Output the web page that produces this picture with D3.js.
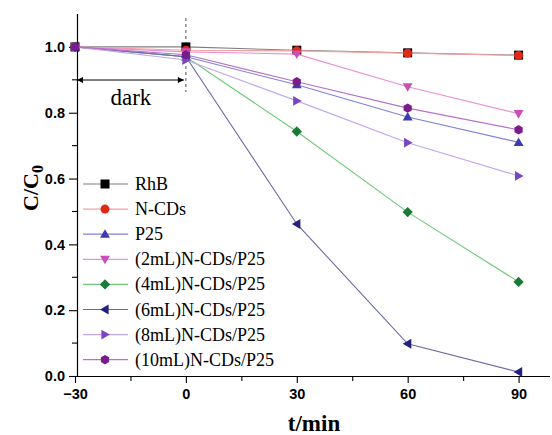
<!DOCTYPE html>
<html>
<head>
<meta charset="utf-8">
<script src="https://cdn.jsdelivr.net/npm/d3@7"></script>
<style>
  html, body { margin: 0; padding: 0; background: #fff; }
  svg { display: block; }
</style>
</head>
<body>
<svg id="chart" width="552" height="435"></svg>
<script>
// Sampling times (min); negative times are the dark adsorption period
const times = [-30, 0, 30, 60, 90];

const seriesNames = [
  "RhB", "N-CDs", "P25", "(2mL)N-CDs/P25", "(4mL)N-CDs/P25",
  "(6mL)N-CDs/P25", "(8mL)N-CDs/P25", "(10mL)N-CDs/P25"
];

// C/C0 values for each sample at the sampling times
const rhb     = [1.00, 1.00, 0.99, 0.982, 0.975];
const ncds    = [1.00, 0.99, 0.988, 0.981, 0.974];
const p25     = [1.00, 0.97, 0.885, 0.787, 0.710];
const ml2     = [1.00, 0.985, 0.978, 0.879, 0.797];
const ml4     = [1.00, 0.97, 0.743, 0.498, 0.286];
const ml6     = [1.00, 0.97, 0.462, 0.098, 0.012];
const ml8     = [1.00, 0.96, 0.836, 0.709, 0.608];
const ml10    = [1.00, 0.976, 0.894, 0.814, 0.748];

const seriesValues = [rhb, ncds, p25, ml2, ml4, ml6, ml8, ml10];

const xTicks = [-30, 0, 30, 60, 90];
const yTicks = [0.0, 0.2, 0.4, 0.6, 0.8, 1.0];

// Per-series styling: line colour, marker colour, marker shape
const lineColors   = ["#808080", "#f4a0a0", "#8080d8", "#e890d8", "#70c878", "#6a6aa8", "#c0a8ec", "#b870c8"];
const markerColors = ["#000000", "#e02818", "#3c3cb0", "#c850b8", "#1a7a38", "#22227e", "#7a44c4", "#7a1c8c"];
const shapes = ["square", "circle", "triUp", "triDown", "diamond", "triLeft", "triRight", "hexagon"];

const svg = d3.select("#chart");
const x = d3.scaleLinear().domain([-30, 98.5]).range([75, 550]);
const y = d3.scaleLinear().domain([0, 1.1]).range([376, 14]);

function markerPath(shape, s) {
  const h = s / 2;
  switch (shape) {
    case "square": return `M${-h},${-h}H${h}V${h}H${-h}Z`;
    case "circle": return d3.symbol(d3.symbolCircle, Math.PI * h * h)();
    case "triUp": return `M0,${-h * 1.1}L${h * 1.1},${h * 0.8}L${-h * 1.1},${h * 0.8}Z`;
    case "triDown": return `M0,${h * 1.1}L${h * 1.1},${-h * 0.8}L${-h * 1.1},${-h * 0.8}Z`;
    case "triLeft": return `M${-h * 1.1},0L${h * 0.8},${-h * 1.1}L${h * 0.8},${h * 1.1}Z`;
    case "triRight": return `M${h * 1.1},0L${-h * 0.8},${-h * 1.1}L${-h * 0.8},${h * 1.1}Z`;
    case "diamond": return `M0,${-h * 1.15}L${h * 1.15},0L0,${h * 1.15}L${-h * 1.15},0Z`;
    case "hexagon": {
      const pts = d3.range(6).map(i => {
        const a = Math.PI / 6 + i * Math.PI / 3;
        return [h * 1.05 * Math.cos(a), h * 1.05 * Math.sin(a)];
      });
      return "M" + pts.map(p => p.join(",")).join("L") + "Z";
    }
  }
}

// Axes
const xAxis = d3.axisBottom(x).tickValues(xTicks).tickSize(7).tickPadding(6).tickFormat(d3.format("d"));
const yAxis = d3.axisLeft(y).tickValues(yTicks).tickSize(8).tickPadding(4).tickFormat(d3.format(".1f"));

const gx = svg.append("g").attr("transform", "translate(0,376)").call(xAxis);
const gy = svg.append("g").attr("transform", "translate(77,0)").call(yAxis);

[gx, gy].forEach(g => {
  g.select(".domain").attr("stroke", "#000").attr("stroke-width", 1.2);
  g.selectAll(".tick line").attr("stroke", "#000").attr("stroke-width", 1.1);
  g.selectAll(".tick text")
    .attr("fill", "#000")
    .style("font-family", "'Liberation Sans', Arial, sans-serif")
    .style("font-weight", "bold")
    .style("font-size", "14.5px");
});
gx.select(".domain").attr("d", `M${x(-30)},0.5H550`);
gy.select(".domain").attr("d", `M0.5,14V376`);

// Minor ticks
const xMinor = [-15, 15, 45, 75];
svg.append("g").selectAll("line").data(xMinor).join("line")
  .attr("x1", d => x(d) + 0.5).attr("x2", d => x(d) + 0.5)
  .attr("y1", 376).attr("y2", 381)
  .attr("stroke", "#000").attr("stroke-width", 1.1);
const yMinor = [0.1, 0.3, 0.5, 0.7, 0.9];
svg.append("g").selectAll("line").data(yMinor).join("line")
  .attr("x1", 72).attr("x2", 77)
  .attr("y1", d => y(d)).attr("y2", d => y(d))
  .attr("stroke", "#000").attr("stroke-width", 1.1);

// Axis titles
svg.append("text")
  .attr("x", 314).attr("y", 431)
  .attr("text-anchor", "middle")
  .style("font-family", "'Liberation Serif', 'Times New Roman', serif")
  .style("font-weight", "bold").style("font-size", "23px")
  .text("t/min");

const yt = svg.append("text")
  .attr("transform", "translate(38,188) rotate(-90)")
  .attr("text-anchor", "middle")
  .style("font-family", "'Liberation Serif', 'Times New Roman', serif")
  .style("font-weight", "bold").style("font-size", "22px");
yt.append("tspan").text("C/C");
yt.append("tspan").attr("dy", 5).style("font-size", "16px").text("0");

// Light-off marker and dark-period annotation
svg.append("line")
  .attr("x1", x(0)).attr("x2", x(0)).attr("y1", 18).attr("y2", 92)
  .attr("stroke", "#555").attr("stroke-width", 1).attr("stroke-dasharray", "3,3");

const defs = svg.append("defs");
defs.append("marker").attr("id", "arrowHead")
  .attr("viewBox", "0 0 10 10").attr("refX", 10).attr("refY", 5)
  .attr("markerWidth", 9).attr("markerHeight", 6).attr("orient", "auto-start-reverse")
  .attr("markerUnits", "userSpaceOnUse")
  .append("path").attr("d", "M0,0L10,5L0,10Z").attr("fill", "#000");

svg.append("line")
  .attr("x1", x(-30) + 2).attr("x2", x(0) - 2).attr("y1", 80).attr("y2", 80)
  .attr("stroke", "#000").attr("stroke-width", 1)
  .attr("marker-start", "url(#arrowHead)").attr("marker-end", "url(#arrowHead)");

svg.append("text")
  .attr("x", x(-15) + 0.5).attr("y", 105)
  .attr("text-anchor", "middle")
  .style("font-family", "'Liberation Serif', 'Times New Roman', serif")
  .style("font-size", "23px")
  .text("dark");

// Data series
const line = d3.line().x(d => x(d[0])).y(d => y(d[1]));
seriesValues.forEach((vals, i) => {
  const pts = times.map((t, j) => [t, vals[j]]);
  const g = svg.append("g");
  g.append("path").attr("d", line(pts))
    .attr("fill", "none").attr("stroke", lineColors[i]).attr("stroke-width", 1.1);
  g.selectAll("path.pt").data(pts).join("path").attr("class", "pt")
    .attr("transform", d => `translate(${x(d[0])},${y(d[1])})`)
    .attr("d", markerPath(shapes[i], 9))
    .attr("fill", markerColors[i]);
});

// Legend
const legend = svg.append("g");
seriesNames.forEach((name, i) => {
  const yy = 184 + i * 25.1;
  legend.append("line").attr("x1", 83).attr("x2", 128).attr("y1", yy).attr("y2", yy)
    .attr("stroke", lineColors[i]).attr("stroke-width", 1.2);
  legend.append("path").attr("transform", `translate(105,${yy})`)
    .attr("d", markerPath(shapes[i], 9)).attr("fill", markerColors[i]);
  legend.append("text").attr("x", 135).attr("y", yy + 6)
    .style("font-family", "'Liberation Serif', 'Times New Roman', serif")
    .style("font-size", "18px").attr("fill", "#000")
    .text(name);
});
</script>
</body>
</html>
